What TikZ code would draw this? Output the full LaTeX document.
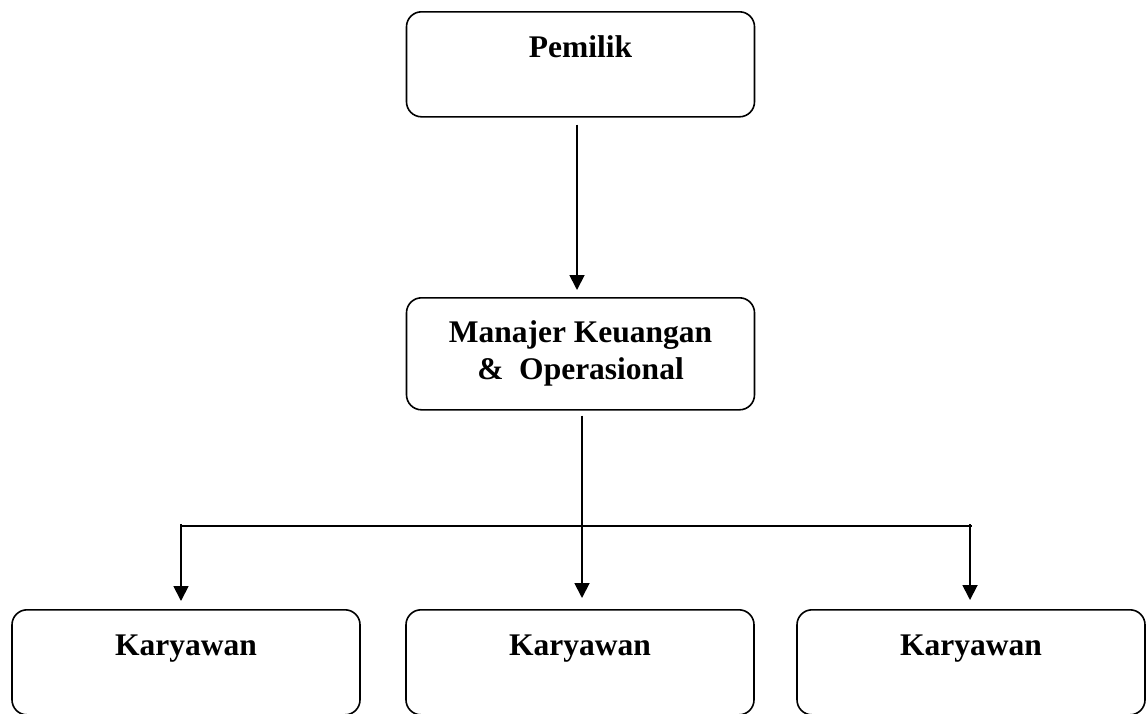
\documentclass[tikz,border=0pt]{standalone}
\usepackage{fontspec}
\setmainfont{Liberation Serif}
\usetikzlibrary{arrows.meta}
\begin{document}
\begin{tikzpicture}[x=1pt,y=-1pt,
  box/.style={draw, rounded corners=15pt, line width=1.6pt, inner sep=0pt,
    minimum width=348pt, align=center,
    font=\fontsize{31.5}{37}\selectfont\bfseries},
  onebox/.style={box, text height=46pt, text depth=59pt},
  conn/.style={line width=1.8pt},
  arr/.style={conn, -{Triangle[width=15pt,length=15pt]}}
]
\useasboundingbox (0,0) rectangle (1147,713);
\node[onebox, anchor=north] (own) at (580.5,11) {Pemilik};
\node[box, anchor=north, minimum height=112pt] (mgr) at (580.5,297)
  {Manajer Keuangan\\\&\ \ Operasional};
\node[onebox, anchor=north] (k1) at (186,609) {Karyawan};
\node[onebox, anchor=north] (k2) at (580,609) {Karyawan};
\node[onebox, anchor=north] (k3) at (971,609) {Karyawan};
\coordinate (hl) at (181,526);
\coordinate (hr) at (972,526);
\draw[arr] ([xshift=-3.5pt,yshift=-7pt]own.south) -- ([xshift=-3.5pt,yshift=7pt]mgr.north);
\draw[arr] ([xshift=1.5pt,yshift=-5pt]mgr.south) -- ([xshift=2pt,yshift=11pt]k2.north);
\draw[conn] (hl) -- (hr);
\draw[arr] ([yshift=2pt]hl) -- ([xshift=-5pt,yshift=8pt]k1.north);
\draw[arr] ([xshift=-2pt,yshift=2pt]hr) -- ([xshift=-1pt,yshift=9pt]k3.north);
\end{tikzpicture}
\end{document}
